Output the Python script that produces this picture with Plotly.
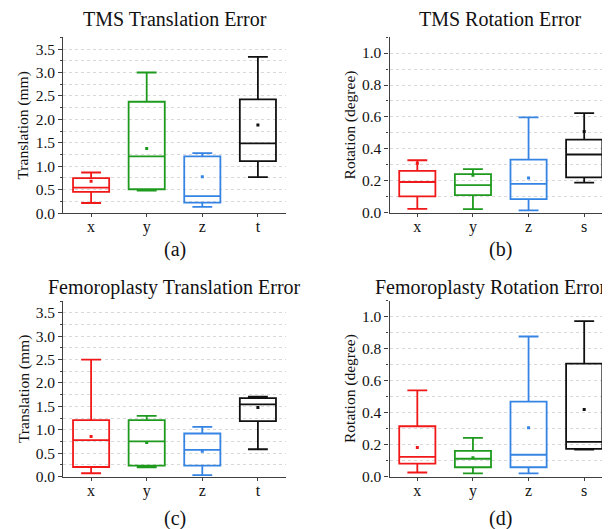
import plotly.graph_objects as go

W, H = 610, 529


def px_x(x):
    return x / W


def px_y(y):
    return 1 - y / H


cats_trans = ["x", "y", "z", "t"]
cats_rot = ["x", "y", "z", "s"]
colors = ["#F01818", "#1E9A1E", "#3584E4", "#111111"]

# (a) TMS Translation Error
a_lower = [0.217, 0.48, 0.133, 0.769]
a_q1 = [0.454, 0.51, 0.224, 1.111]
a_median = [0.545, 1.209, 0.363, 1.488]
a_q3 = [0.748, 2.376, 1.209, 2.425]
a_upper = [0.867, 3.00, 1.279, 3.333]
a_mean = [0.678, 1.377, 0.776, 1.88]

# (b) TMS Rotation Error
b_lower = [0.025, 0.023, 0.016, 0.189]
b_q1 = [0.103, 0.111, 0.086, 0.222]
b_median = [0.193, 0.173, 0.181, 0.365]
b_q3 = [0.263, 0.242, 0.333, 0.458]
b_upper = [0.329, 0.273, 0.598, 0.624]
b_mean = [0.31, 0.236, 0.218, 0.509]

# (c) Femoroplasty Translation Error
c_lower = [0.070, 0.196, 0.028, 0.582]
c_q1 = [0.203, 0.231, 0.231, 1.185]
c_median = [0.778, 0.750, 0.568, 1.543]
c_q3 = [1.206, 1.206, 0.919, 1.676]
c_upper = [2.497, 1.297, 1.059, 1.704]
c_mean = [0.855, 0.729, 0.54, 1.473]

# (d) Femoroplasty Rotation Error
d_lower = [0.025, 0.019, 0.019, 0.168]
d_q1 = [0.080, 0.058, 0.058, 0.173]
d_median = [0.123, 0.111, 0.136, 0.216]
d_q3 = [0.314, 0.160, 0.468, 0.706]
d_upper = [0.538, 0.242, 0.875, 0.971]
d_mean = [0.181, 0.117, 0.304, 0.419]

titles = ["TMS Translation Error", "TMS Rotation Error",
          "Femoroplasty Translation Error", "Femoroplasty Rotation Error"]
sublabels = ["(a)", "(b)", "(c)", "(d)"]
ytitles = ["Translation (mm)", "Rotation (degree)", "Translation (mm)", "Rotation (degree)"]

FONT = "Liberation Serif"

panels = [
    dict(cats=cats_trans, lo=a_lower, q1=a_q1, me=a_median, q3=a_q3, up=a_upper, mean=a_mean,
         xd=[55.3, 277.7], yd=[29.8, 208.3], yr=[0, 3.75], dt=0.5, mdt=0.25,
         ty=11, sy=245),
    dict(cats=cats_rot, lo=b_lower, q1=b_q1, me=b_median, q3=b_q3, up=b_upper, mean=b_mean,
         xd=[381.5, 604.0], yd=[29.5, 208.0], yr=[0, 1.1], dt=0.2, mdt=0.1,
         ty=11, sy=245),
    dict(cats=cats_trans, lo=c_lower, q1=c_q1, me=c_median, q3=c_q3, up=c_upper, mean=c_mean,
         xd=[55.3, 277.7], yd=[297.5, 475.7], yr=[0, 3.75], dt=0.5, mdt=0.25,
         ty=284, sy=518),
    dict(cats=cats_rot, lo=d_lower, q1=d_q1, me=d_median, q3=d_q3, up=d_upper, mean=d_mean,
         xd=[381.5, 604.0], yd=[297.0, 475.7], yr=[0, 1.1], dt=0.2, mdt=0.1,
         ty=284, sy=518),
]

fig = go.Figure()
annotations = []
axis_color = "#404040"
grid_color = "#D8D8D8"

for i, p in enumerate(panels):
    n = "" if i == 0 else str(i + 1)
    xa, ya = "x" + n, "y" + n
    for j, cat in enumerate(p["cats"]):
        fig.add_trace(go.Box(
            x=[cat], q1=[p["q1"][j]], median=[p["me"][j]], q3=[p["q3"][j]],
            lowerfence=[p["lo"][j]], upperfence=[p["up"][j]],
            boxpoints=False, width=0.65, whiskerwidth=0.55,
            line=dict(color=colors[j], width=1.8), fillcolor="rgba(0,0,0,0)",
            xaxis=xa, yaxis=ya, showlegend=False, hoverinfo="skip",
        ))
    fig.add_trace(go.Scatter(
        x=p["cats"], y=p["mean"], mode="markers",
        marker=dict(color=colors, size=3, symbol="square", line=dict(width=0)),
        xaxis=xa, yaxis=ya, showlegend=False, hoverinfo="skip",
    ))
    xd = [px_x(p["xd"][0]), px_x(p["xd"][1])]
    yd = [px_y(p["yd"][1]), px_y(p["yd"][0])]
    fig.layout["xaxis" + n] = dict(
        domain=xd, type="category", range=[-0.5, 3.5], anchor=ya,
        showline=True, linecolor=axis_color, linewidth=1.2,
        ticks="outside", ticklen=3, tickcolor=axis_color, tickwidth=1,
        ticklabelstandoff=-4,
        showgrid=False, zeroline=False,
        tickfont=dict(family=FONT, size=16, color="#111"),
    )
    fig.layout["yaxis" + n] = dict(
        domain=yd, range=p["yr"], anchor=xa, tick0=0, dtick=p["dt"],
        tickformat=".1f", showline=True, linecolor=axis_color, linewidth=1.2,
        ticks="outside", ticklen=4, tickcolor=axis_color, tickwidth=1,
        showgrid=True, gridcolor=grid_color, griddash="dot", gridwidth=1,
        zeroline=False,
        minor=dict(dtick=p["mdt"], tick0=0, ticks="outside", ticklen=2,
                   tickcolor=axis_color, showgrid=True, gridcolor=grid_color,
                   griddash="dot", gridwidth=1),
        tickfont=dict(family=FONT, size=15.5, color="#111"),
    )
    cx = (p["xd"][0] + p["xd"][1]) / 2
    # title
    if i == 3:
        tx, txa = px_x(600), "right"
    else:
        tx, txa = px_x(cx), "center"
    annotations.append(dict(
        text=titles[i], x=tx, y=px_y(p["ty"]),
        xref="paper", yref="paper", xanchor=txa, yanchor="middle",
        showarrow=False, font=dict(family=FONT, size=20, color="#111"),
    ))
    # sub label
    annotations.append(dict(
        text=sublabels[i], x=px_x(cx), y=px_y(p["sy"]),
        xref="paper", yref="paper", xanchor="center", yanchor="middle",
        showarrow=False, font=dict(family=FONT, size=20, color="#111"),
    ))
    # y axis title
    annotations.append(dict(
        text=ytitles[i], x=px_x(p["xd"][0] - 40), y=px_y((p["yd"][0] + p["yd"][1]) / 2),
        xref="paper", yref="paper", xanchor="center", yanchor="middle",
        textangle=-90, showarrow=False, font=dict(family=FONT, size=15.5, color="#111"),
    ))

fig.update_layout(
    width=W, height=H, margin=dict(l=0, r=0, t=0, b=0),
    paper_bgcolor="white", plot_bgcolor="white",
    boxmode="overlay", annotations=annotations,
    font=dict(family=FONT, color="#111"),
)

fig.write_html("out.html")
